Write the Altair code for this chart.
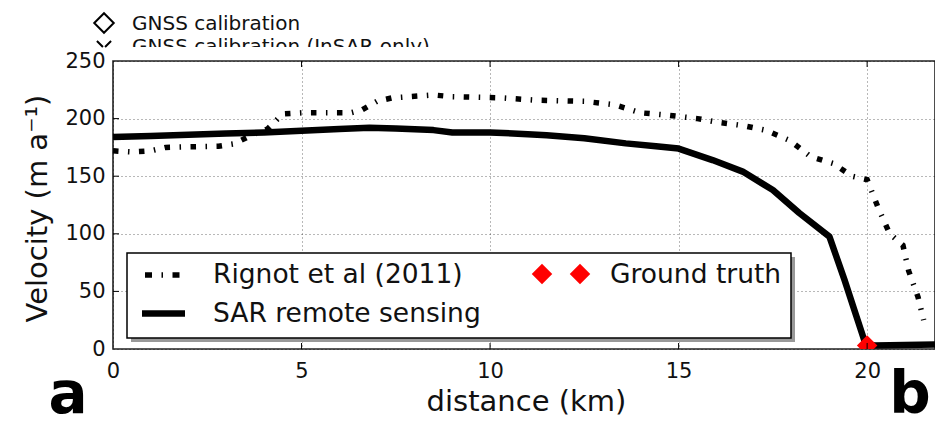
import altair as alt
import pandas as pd

# ---- data ----
rignot_km = [0, 0.5, 1.0, 1.4, 2.0, 2.8, 3.2, 3.7, 4.1, 4.5, 5.0, 5.5, 6.3, 6.6, 7.0, 7.4, 8.5, 9.0,
             10.3, 11.2, 12.5, 13.3, 14.0, 14.7, 15.5, 16.0, 16.7, 17.3, 17.95, 18.5, 19.1, 19.6,
             20.0, 20.3, 20.6, 20.95, 21.1, 21.35, 21.5]
rignot_v = [172, 171, 172, 175, 175.5, 176, 178, 186, 191, 204, 205, 205, 205, 207.5, 215, 218, 220.5, 219,
            218, 216, 215, 212, 205, 203, 200, 197, 194, 190, 181, 167, 161, 150,
            147, 122, 100, 90, 68, 45, 25]

sar_km = [0, 1, 2, 3, 4, 5, 6, 6.8, 7.5, 8.5, 9.0, 10, 11, 11.5, 12.5, 13.6, 14.4, 15, 15.9, 16.7,
          17.5, 18.2, 19.0, 19.4, 19.7, 19.95, 20.2, 21.0, 21.8]
sar_v = [184, 185, 186, 187, 188, 189.5, 191, 192, 191.5, 190, 188, 188, 186.5, 185.5, 183, 178.5, 176,
         174, 164, 154, 138, 118, 97.5, 60, 30, 5, 3, 3.5, 4]

truth_km = [20.0]
truth_v = [3]

x_ticks = [0, 5, 10, 15, 20]
y_ticks = [0, 50, 100, 150, 200, 250]
inner_x_ticks = [5, 10, 15, 20]
inner_y_ticks = [50, 100, 150, 200]

FONT = "DejaVu Sans"
W, H = 822, 288
XDOM = [0, 21.8]
DASHDOT = [5.5, 9.5, 1.5, 9.5]

rig = pd.DataFrame({"km": rignot_km, "v": rignot_v})
sar = pd.DataFrame({"km": sar_km, "v": sar_v})
gt = pd.DataFrame({"km": truth_km, "v": truth_v})

xs = alt.Scale(domain=XDOM, nice=False, zero=False)
ys = alt.Scale(domain=[0, 250], nice=False)

xaxis = alt.Axis(values=x_ticks, title="distance (km)", labelFlush=False, labelPadding=11,
                 titleX=413, titleY=61, titleBaseline="alphabetic")
yaxis = alt.Axis(values=y_ticks, title="Velocity (m a⁻¹)", labelPadding=8,
                 titleX=-67, titleY=147, titleBaseline="alphabetic", titleAngle=270)

rig_line = alt.Chart(rig).mark_line(color="black", strokeWidth=5.5, strokeDash=DASHDOT,
                                    strokeCap="butt").encode(
    x=alt.X("km:Q", scale=xs, axis=xaxis),
    y=alt.Y("v:Q", scale=ys, axis=yaxis),
)
sar_line = alt.Chart(sar).mark_line(color="black", strokeWidth=6.5, strokeJoin="round").encode(
    x=alt.X("km:Q", scale=xs), y=alt.Y("v:Q", scale=ys))
truth = alt.Chart(gt).mark_point(shape="diamond", filled=True, color="red", opacity=1,
                                 size=420, clip=True).encode(
    x=alt.X("km:Q", scale=xs), y=alt.Y("v:Q", scale=ys))

# inward ticks
xt = pd.DataFrame({"km": inner_x_ticks})
yt = pd.DataFrame({"v": inner_y_ticks})
ticks_bottom = alt.Chart(xt).mark_rule(color="black", strokeWidth=1).encode(
    x=alt.X("km:Q", scale=xs), y=alt.value(H - 6), y2=alt.value(H))
ticks_top = alt.Chart(xt).mark_rule(color="black", strokeWidth=1).encode(
    x=alt.X("km:Q", scale=xs), y=alt.value(0), y2=alt.value(6))
ticks_left = alt.Chart(yt).mark_rule(color="black", strokeWidth=1).encode(
    y=alt.Y("v:Q", scale=ys), x=alt.value(0), x2=alt.value(6))

one = pd.DataFrame({"a": [0]})

# legend box
shadow = alt.Chart(one).mark_rect(color="#999999").encode(
    x=alt.value(18), x2=alt.value(682), y=alt.value(196), y2=alt.value(281))
box = alt.Chart(one).mark_rect(fill="white", stroke="black", strokeWidth=1.5).encode(
    x=alt.value(14), x2=alt.value(678), y=alt.value(192), y2=alt.value(277))
leg_rig = alt.Chart(one).mark_rule(color="black", strokeWidth=5.5, strokeDash=[7, 9.5, 1.5, 9.5],
                                   strokeCap="butt").encode(
    x=alt.value(32), x2=alt.value(67), y=alt.value(214))
leg_sar = alt.Chart(one).mark_rule(color="black", strokeWidth=6.5).encode(
    x=alt.value(29), x2=alt.value(72), y=alt.value(252.5))
leg_gt = alt.Chart(pd.DataFrame({"px": [429, 467]})).mark_point(
    shape="diamond", filled=True, color="red", opacity=1, size=420).encode(
    x=alt.X("px:Q", scale=None), y=alt.value(213))

leg_text = alt.Chart(pd.DataFrame({
    "t": ["Rignot et al (2011)", "SAR remote sensing", "Ground truth"],
    "px": [100, 100, 497],
    "py": [222, 261, 222],
})).mark_text(font=FONT, fontSize=26.5, align="left", baseline="alphabetic", color="#111").encode(
    x=alt.X("px:Q", scale=None), y=alt.Y("py:Q", scale=None), text="t:N")

# top (cropped) legend
top_diamond = alt.Chart(one).mark_point(shape="diamond", filled=False, color="black",
                                        strokeWidth=2, size=380, opacity=1).encode(
    x=alt.value(-9), y=alt.value(-38))
top_x = alt.Chart(one).mark_point(shape="M-1,-1L-0.15,-0.15M1,-1L0.15,-0.15", filled=False,
                                  color="black", strokeWidth=2, size=200, opacity=1).encode(
    x=alt.value(-9), y=alt.value(-13))
top_text = alt.Chart(pd.DataFrame({
    "t": ["GNSS calibration", "GNSS calibration (InSAR only)"],
    "py": [-31, -8],
})).mark_text(font=FONT, fontSize=20, align="left", baseline="alphabetic", color="#111").encode(
    x=alt.value(19), y=alt.Y("py:Q", scale=None), text="t:N")
cover = alt.Chart(one).mark_rect(color="white").encode(
    x=alt.value(8), x2=alt.value(400), y=alt.value(-14), y2=alt.value(-1))

letters = alt.Chart(pd.DataFrame({"t": ["a", "b"], "px": [-45, 797]})).mark_text(
    font=FONT, fontSize=58, fontWeight="bold", align="center", baseline="alphabetic",
    color="black").encode(x=alt.X("px:Q", scale=None), y=alt.value(352), text="t:N")

chart = alt.layer(
    rig_line, sar_line, truth, ticks_bottom, ticks_top, ticks_left,
    shadow, box, leg_rig, leg_sar, leg_gt, leg_text,
    top_diamond, top_text, cover, top_x, letters,
).properties(
    width=W, height=H,
    autosize=alt.AutoSizeParams(type="none"),
    padding={"left": 113, "top": 61, "right": 0, "bottom": 74},
    background="white",
).configure_view(
    stroke="#222", strokeWidth=1.6
).configure_axis(
    labelFont=FONT, labelFontSize=21, labelColor="#111",
    titleFont=FONT, titleFontSize=29, titleFontWeight="normal", titleColor="#111",
    domain=False, ticks=False, tickSize=0,
    grid=True, gridDash=[1, 3], gridColor="#000", gridOpacity=0.7, gridWidth=0.8,
)

chart.save("out.html", embed_options={"renderer": "svg", "actions": False})
